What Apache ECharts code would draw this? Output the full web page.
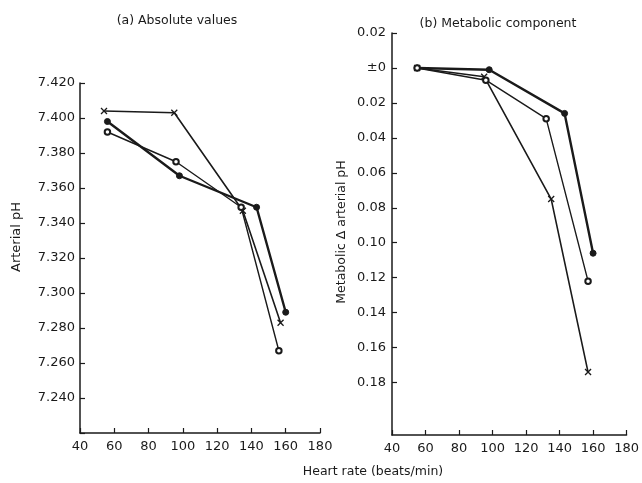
<!DOCTYPE html>
<html>
<head>
<meta charset="utf-8">
<script src="https://cdn.jsdelivr.net/npm/echarts@6/dist/echarts.min.js"></script>
<style>html,body{margin:0;padding:0;background:#fff}#c{width:642px;height:483px}</style>
</head>
<body>
<div id="c"></div>
<script>
// ---- data ----
const xTicks = [40, 60, 80, 100, 120, 140, 160, 180];
const phTicks = [7.24, 7.26, 7.28, 7.30, 7.32, 7.34, 7.36, 7.38, 7.40, 7.42];
const metaTicks = [-0.02, 0, 0.02, 0.04, 0.06, 0.08, 0.10, 0.12, 0.14, 0.16, 0.18];

// (a) absolute values
const hrCrossA  = [54, 95, 135, 157];
const phCross   = [7.404, 7.403, 7.347, 7.283];
const hrFilledA = [56, 98, 143, 160];
const phFilled  = [7.398, 7.367, 7.349, 7.289];
const hrOpenA   = [56, 96, 134, 156];
const phOpen    = [7.392, 7.375, 7.349, 7.267];

// (b) metabolic component (magnitude of fall in pH)
const hrCrossB  = [55, 95, 135, 157];
const metaCross = [0, 0.005, 0.075, 0.174];
const hrFilledB = [55, 98, 143, 160];
const metaFilled= [0, 0.001, 0.026, 0.106];
const hrOpenB   = [55, 96, 132, 157];
const metaOpen  = [0, 0.007, 0.029, 0.122];

const FONT = 'DejaVu Sans';
const INK = '#1a1a1a';
const zip = (a, b) => a.map((v, i) => [v, b[i]]);
const crossPath = 'path://M0,0L10,10M10,0L0,10';

function xAxis(gi) {
  return {
    type: 'value', gridIndex: gi, min: 40, max: 180, interval: 20,
    axisLine: {show: true, onZero: false, lineStyle: {color: INK, width: 1.5}},
    axisTick: {show: true, inside: true, length: 5, lineStyle: {color: INK, width: 1.2}},
    axisLabel: {color: INK, fontFamily: FONT, fontSize: 13, margin: 7,
      formatter: v => xTicks.some(t => Math.abs(t - v) < 1e-6) ? String(v) : ''},
    splitLine: {show: false}
  };
}

function mkSeries(name, data, xi, yi, symbol, lw, bw) {
  return {
    name, type: 'line', xAxisIndex: xi, yAxisIndex: yi, data,
    symbol, symbolSize: symbol === 'emptyCircle' ? 5.5 : 6,
    showSymbol: true, animation: false,
    lineStyle: {color: INK, width: lw},
    itemStyle: {color: INK, borderColor: INK, borderWidth: bw}
  };
}

const chart = echarts.init(document.getElementById('c'), null, {renderer: 'canvas'});
chart.setOption({
  backgroundColor: '#fff',
  animation: false,
  title: [
    {text: '(a) Absolute values', left: 172, top: 9, textAlign: 'center',
     textStyle: {fontFamily: FONT, fontSize: 12.5, fontWeight: 'normal', color: INK}},
    {text: '(b) Metabolic component', left: 493, top: 12, textAlign: 'center',
     textStyle: {fontFamily: FONT, fontSize: 12.5, fontWeight: 'normal', color: INK}}
  ],
  grid: [
    {left: 80, top: 83, width: 240, height: 350},
    {left: 392, top: 33, width: 239, height: 402}
  ],
  xAxis: [xAxis(0), xAxis(1)],
  yAxis: [
    {type: 'value', gridIndex: 0, min: 7.22, max: 7.42, interval: 0.02,
     axisLine: {show: true, lineStyle: {color: INK, width: 1.5}},
     axisTick: {show: true, inside: true, length: 5, lineStyle: {color: INK, width: 1.2}},
     axisLabel: {color: INK, fontFamily: FONT, fontSize: 13, margin: 5,
       formatter: v => phTicks.some(t => Math.abs(t - v) < 1e-6) ? v.toFixed(3) : ''},
     splitLine: {show: false}},
    {type: 'value', gridIndex: 1, min: -0.02, max: 0.21, interval: 0.02, inverse: true,
     axisLine: {show: true, onZero: false, lineStyle: {color: INK, width: 1.5}},
     axisTick: {show: true, inside: true, length: 5, customValues: metaTicks,
       lineStyle: {color: INK, width: 1.2}},
     axisLabel: {color: INK, fontFamily: FONT, fontSize: 13, margin: 6, customValues: metaTicks,
       formatter: v => {
         if (Math.abs(v) < 1e-6) return '±0';
         return Math.abs(v).toFixed(2);
       }},
     splitLine: {show: false}}
  ],
  graphic: [
    {type: 'text', x: 17, y: 237, rotation: Math.PI / 2,
     style: {text: 'Arterial pH', fontFamily: FONT, fontSize: 13, fill: INK,
             textAlign: 'center', textVerticalAlign: 'middle'}},
    {type: 'text', x: 342, y: 232, rotation: Math.PI / 2,
     style: {text: 'Metabolic Δ arterial pH', fontFamily: FONT, fontSize: 12.5, fill: INK,
             textAlign: 'center', textVerticalAlign: 'middle'}},
    {type: 'text', x: 373, y: 472,
     style: {text: 'Heart rate (beats/min)', fontFamily: FONT, fontSize: 12.5, fill: INK,
             textAlign: 'center', textVerticalAlign: 'middle'}}
  ],
  series: [
    mkSeries('crossA', zip(hrCrossA, phCross), 0, 0, crossPath, 1.6, 1.3),
    mkSeries('filledA', zip(hrFilledA, phFilled), 0, 0, 'circle', 2.4, 1),
    mkSeries('openA', zip(hrOpenA, phOpen), 0, 0, 'emptyCircle', 1.4, 1),
    mkSeries('crossB', zip(hrCrossB, metaCross), 1, 1, crossPath, 1.6, 1.3),
    mkSeries('filledB', zip(hrFilledB, metaFilled), 1, 1, 'circle', 2.4, 1),
    mkSeries('openB', zip(hrOpenB, metaOpen), 1, 1, 'emptyCircle', 1.4, 1)
  ]
});
</script>
</body>
</html>
